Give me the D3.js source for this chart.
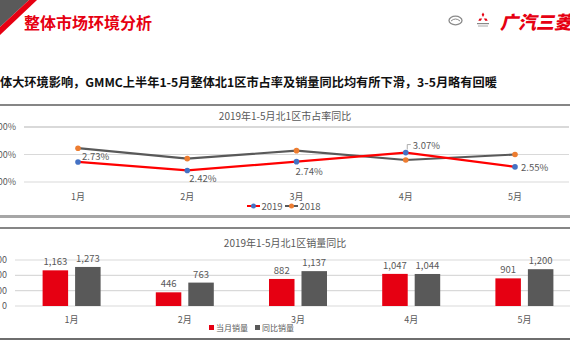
<!DOCTYPE html>
<html><head><meta charset="utf-8">
<script src="https://cdn.jsdelivr.net/npm/d3@7"></script>
<style>
html,body{margin:0;padding:0;background:#fff;overflow:hidden}
text{font-family:"Noto Sans CJK SC","Noto Sans",sans-serif}
</style></head>
<body>
<svg id="c" width="570" height="360"></svg>
<script>
const months = ["1月","2月","3月","4月","5月"];
const share2019 = [0.0273,0.0242,0.0274,0.0307,0.0255];
const share2018 = [0.0323,0.0285,0.0314,0.0280,0.0300];
const shareTicks = [0.02,0.03,0.04];
const salesCur = [1163,446,882,1047,901];
const salesPrev = [1273,763,1137,1044,1200];
const salesTicks = [0,500,1000,1500];
const salesSeries = ["当月销量","同比销量"];
const lineSeries = ["2019","2018"];

const svg = d3.select("#c");
const RED="#E60012", GRAY="#595959", LABEL="#595959", GRID="#d9d9d9";

// header stripe
svg.append("polygon").attr("points","0,0 29,0 0,27").attr("fill","#5a5a5a");
svg.append("polygon").attr("points","29,0 37,0 0,35 0,27").attr("fill",RED);
svg.append("text").attr("x",24).attr("y",29).attr("font-size",16).attr("font-weight",700)
  .attr("fill",RED).text("整体市场环境分析");
// logos
svg.append("ellipse").attr("cx",455.5).attr("cy",20.5).attr("rx",6.5).attr("ry",4.3)
  .attr("fill","none").attr("stroke","#8a8a8a").attr("stroke-width",1.3);
svg.append("path").attr("d","M451,21 Q455.5,17 460,21").attr("fill","none").attr("stroke","#8a8a8a").attr("stroke-width",1);
const mx=483, my=18;
[[0,-3.2],[-2.8,1.6],[2.8,1.6]].forEach(([dx,dy])=>{
  const cx=mx+dx, cy=my+dy;
  svg.append("polygon").attr("points",`${cx},${cy-2.2} ${cx+1.3},${cy} ${cx},${cy+2.2} ${cx-1.3},${cy}`)
    .attr("fill",RED).attr("transform",`rotate(${dx===0?0:(dx<0?60:-60)},${cx},${cy})`);
});
svg.append("rect").attr("x",477).attr("y",23).attr("width",12).attr("height",1.2).attr("fill","#888");
svg.append("rect").attr("x",478).attr("y",25.5).attr("width",10).attr("height",1).attr("fill","#aaa");
svg.append("text").attr("x",500).attr("y",29).attr("font-size",18).attr("font-weight",900)
  .attr("fill",RED).attr("font-style","italic").text("广汽三菱");

// subtitle
const sub = svg.append("text").attr("x",0).attr("y",87).attr("font-size",12.5).attr("font-weight",700)
  .attr("fill","#111").text("体大环境影响，GMMC上半年1-5月整体北1区市占率及销量同比均有所下滑，3-5月略有回暖");
const sl = sub.node().getComputedTextLength();
if (sl>0) sub.attr("font-size", 12.5*497/sl);

// ---------- Chart 1 ----------
svg.append("line").attr("x1",0).attr("x2",570).attr("y1",105).attr("y2",105).attr("stroke","#5e5e5e").attr("stroke-width",1.5);
svg.append("line").attr("x1",0).attr("x2",570).attr("y1",216.5).attr("y2",216.5).attr("stroke","#a6a6a6").attr("stroke-width",3);
svg.append("text").attr("x",285).attr("y",119.5).attr("text-anchor","middle").attr("font-size",10)
  .attr("fill",LABEL).text("2019年1-5月北1区市占率同比");

const x1 = d3.scalePoint().domain(months).range([78,515]);
const y1 = d3.scaleLinear().domain([0.02,0.04]).range([182,127]);
const g1 = svg.append("g");
g1.selectAll(".gl").data(shareTicks).join("line")
  .attr("x1",24).attr("x2",569).attr("y1",d=>y1(d)).attr("y2",d=>y1(d))
  .attr("stroke",GRID).attr("stroke-width",d=>d===0.04?2:1.2);
g1.selectAll(".yl").data(shareTicks).join("text")
  .attr("x",16).attr("y",d=>y1(d)+3).attr("text-anchor","end").attr("font-size",9)
  .attr("fill",LABEL).text(d=>d3.format(".2%")(d));
g1.selectAll(".xl").data(months).join("text")
  .attr("x",d=>x1(d)).attr("y",199.5).attr("text-anchor","middle").attr("font-size",9)
  .attr("fill",LABEL).text(d=>d);

const ln = d3.line().x((d,i)=>x1(months[i])).y(d=>y1(d));
g1.append("path").datum(share2018).attr("d",ln).attr("fill","none").attr("stroke",GRAY).attr("stroke-width",2.2);
g1.append("path").datum(share2019).attr("d",ln).attr("fill","none").attr("stroke","#FF0000").attr("stroke-width",2.2);
g1.selectAll(".m18").data(share2018).join("circle").attr("cx",(d,i)=>x1(months[i])).attr("cy",d=>y1(d))
  .attr("r",2.8).attr("fill","#ED7D31");
g1.selectAll(".m19").data(share2019).join("circle").attr("cx",(d,i)=>x1(months[i])).attr("cy",d=>y1(d))
  .attr("r",2.8).attr("fill","#4472C4");
// data labels 2019
const lblOff = [[4,-2],[2,12],[-1,13],[7,-4],[6,4]];
g1.selectAll(".dl").data(share2019).join("text")
  .attr("x",(d,i)=>x1(months[i])+lblOff[i][0]).attr("y",(d,i)=>y1(d)+lblOff[i][1])
  .attr("font-size",9.5).attr("fill",LABEL).text(d=>d3.format(".2%")(d));
// leader for 3.07%
g1.append("path").attr("d",`M${x1("4月")+1.5},${y1(0.0307)-3} V${y1(0.0307)-8} H${x1("4月")+5}`)
  .attr("fill","none").attr("stroke","#999").attr("stroke-width",0.8);
// legend
const leg1 = [{name:lineSeries[0],line:"#FF0000",mk:"#4472C4",x:247},{name:lineSeries[1],line:GRAY,mk:"#ED7D31",x:285}];
leg1.forEach(l=>{
  svg.append("line").attr("x1",l.x).attr("x2",l.x+13).attr("y1",206).attr("y2",206).attr("stroke",l.line).attr("stroke-width",2);
  svg.append("circle").attr("cx",l.x+6.5).attr("cy",206).attr("r",2.5).attr("fill",l.mk);
  svg.append("text").attr("x",l.x+14.5).attr("y",209.5).attr("font-size",9.5).attr("fill",LABEL).text(l.name);
});

// ---------- Chart 2 ----------
svg.append("line").attr("x1",0).attr("x2",570).attr("y1",228).attr("y2",228).attr("stroke","#5e5e5e").attr("stroke-width",1.5);
svg.append("line").attr("x1",0).attr("x2",570).attr("y1",339).attr("y2",339).attr("stroke","#6e6e6e").attr("stroke-width",2);
svg.append("text").attr("x",285).attr("y",246.5).attr("text-anchor","middle").attr("font-size",10)
  .attr("fill",LABEL).text("2019年1-5月北1区销量同比");

const x2 = d3.scaleBand().domain(months).range([15,581]);
const xs = d3.scaleBand().domain(salesSeries).range([x2.bandwidth()/2-29, x2.bandwidth()/2+29]).paddingInner(0.215);
const y2 = d3.scaleLinear().domain([0,1500]).range([306,260]);
const g2 = svg.append("g");
g2.selectAll(".gl").data(salesTicks).join("line")
  .attr("x1",15).attr("x2",570).attr("y1",d=>y2(d)).attr("y2",d=>y2(d))
  .attr("stroke",GRID).attr("stroke-width",1.2);
g2.selectAll(".yl").data(salesTicks).join("text")
  .attr("x",7).attr("y",d=>y2(d)+3).attr("text-anchor","end").attr("font-size",9)
  .attr("fill",LABEL).text(d=>d);
g2.selectAll(".xl").data(months).join("text")
  .attr("x",d=>x2(d)+x2.bandwidth()/2).attr("y",322.5).attr("text-anchor","middle").attr("font-size",9)
  .attr("fill",LABEL).text(d=>d);
const rows = months.map((m,i)=>({m, vals:[{s:salesSeries[0],v:salesCur[i]},{s:salesSeries[1],v:salesPrev[i]}]}));
const col = {[salesSeries[0]]:RED,[salesSeries[1]]:GRAY};
const grp = g2.selectAll(".grp").data(rows).join("g").attr("transform",d=>`translate(${x2(d.m)},0)`);
grp.selectAll("rect").data(d=>d.vals).join("rect")
  .attr("x",d=>xs(d.s)).attr("width",xs.bandwidth())
  .attr("y",d=>y2(d.v)).attr("height",d=>y2(0)-y2(d.v)).attr("fill",d=>col[d.s]);
grp.selectAll("text").data(d=>d.vals).join("text")
  .attr("x",d=>xs(d.s)+xs.bandwidth()/2).attr("y",d=>y2(d.v)-5).attr("text-anchor","middle")
  .attr("font-size",9.5).attr("fill",LABEL).text(d=>d3.format(",")(d.v));
// legend
[{n:salesSeries[0],c:RED,x:209},{n:salesSeries[1],c:GRAY,x:255}].forEach(l=>{
  svg.append("rect").attr("x",l.x).attr("y",325).attr("width",5).attr("height",5).attr("fill",l.c);
  svg.append("text").attr("x",l.x+7).attr("y",330.5).attr("font-size",8).attr("fill",LABEL).text(l.n);
});
</script>
</body></html>
